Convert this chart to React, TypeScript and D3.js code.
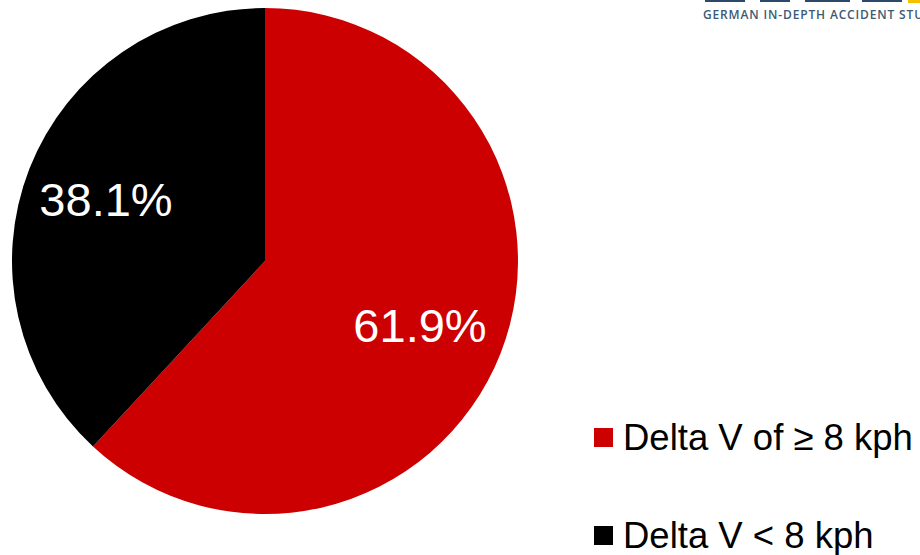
import React from "react";
import * as d3 from "d3";

const categories = ["Delta V of ≥ 8 kph", "Delta V < 8 kph"];
const values = [61.9, 38.1];
const colors = ["#CC0000", "#000000"];
const logoText = "GERMAN IN-DEPTH ACCIDENT STUDY";

export default function App() {
  const W = 920, H = 555;
  const cx = 265, cy = 261, r = 253;
  const pie = d3.pie<number>().sort(null).value((d) => d)(values);
  const arc = d3.arc<d3.PieArcDatum<number>>().innerRadius(0).outerRadius(r);
  const labelPos = [
    [155, 81],
    [-159, -45],
  ];
  const font = "Arial, 'Liberation Sans', sans-serif";
  return (
    <svg width={W} height={H} style={{ position: "absolute", left: 0, top: 0 }}>
      <rect width={W} height={H} fill="#fff" />
      <g transform={`translate(${cx},${cy})`}>
        {pie.map((p, i) => (
          <path key={i} d={arc(p) as string} fill={colors[i]} />
        ))}
        {pie.map((p, i) => (
          <text
            key={"l" + i}
            x={labelPos[i][0]}
            y={labelPos[i][1]}
            textAnchor="middle"
            fill="#fff"
            fontFamily={font}
            fontSize={47}
          >
            {p.value.toFixed(1)}%
          </text>
        ))}
      </g>
      {categories.map((c, i) => (
        <g key={c} transform={`translate(594,${428 + i * 98})`}>
          <rect width={19} height={19} fill={colors[i]} />
          <text x={29} y={22} fontFamily={font} fontSize={36.5} fill="#000">
            {c}
          </text>
        </g>
      ))}
      <g>
        <rect x={705} y={0} width={40} height={2} fill="#2b4a6b" />
        <rect x={760} y={0} width={30} height={2} fill="#2b4a6b" />
        <rect x={805} y={0} width={45} height={2} fill="#2b4a6b" />
        <rect x={862} y={0} width={40} height={2} fill="#2b4a6b" />
        <rect x={908} y={0} width={12} height={3} fill="#f2c200" />
        <text
          x={703}
          y={19}
          fontFamily="'Open Sans', 'DejaVu Sans', sans-serif"
          fontWeight={600}
          fontSize={12}
          letterSpacing={0.85}
          fill="#3d5a73"
        >
          {logoText}
        </text>
      </g>
    </svg>
  );
}
